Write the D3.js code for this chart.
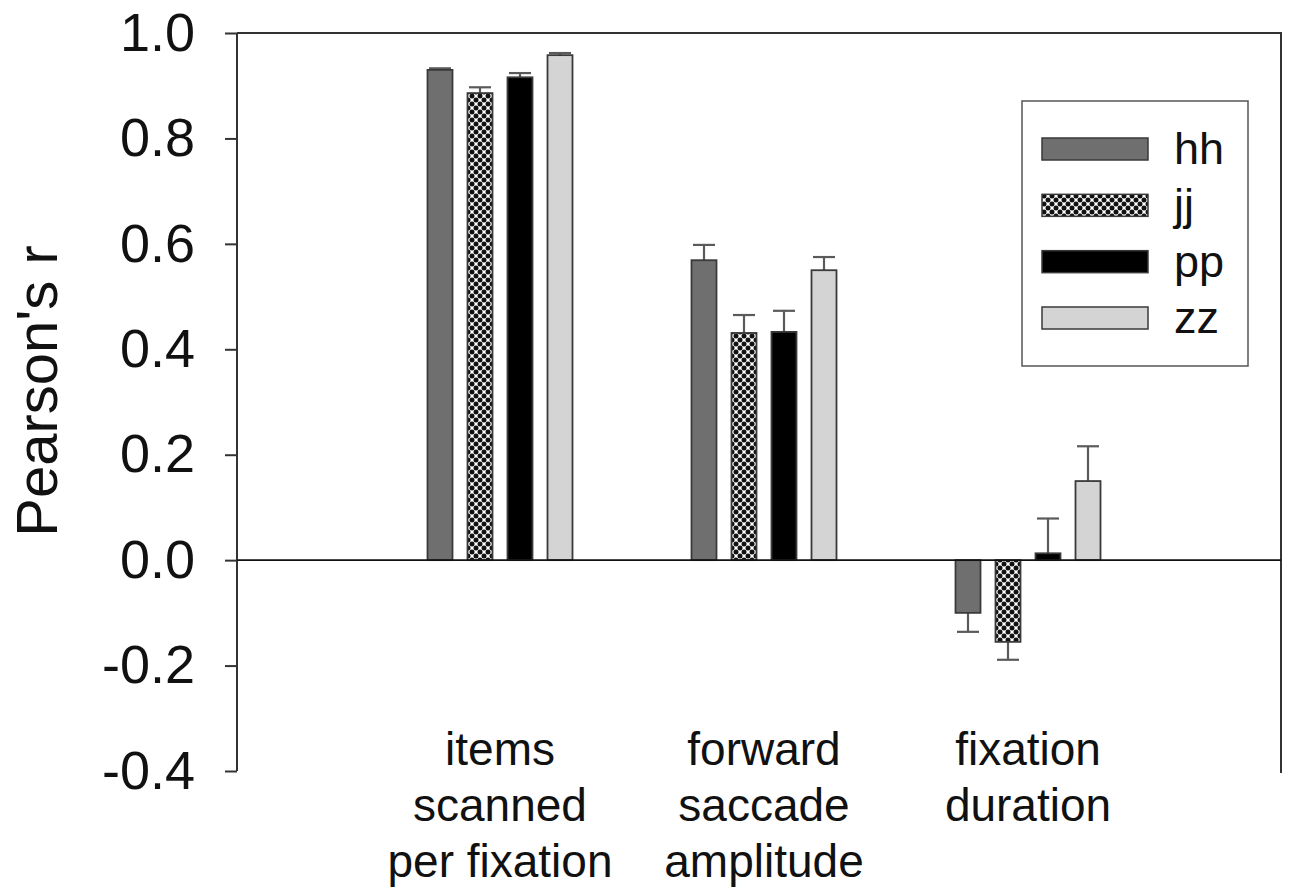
<!DOCTYPE html>
<html lang="en">
<head>
  <meta charset="UTF-8" />
  <title>Pearson's r</title>
  <script src="https://cdn.jsdelivr.net/npm/d3@7"></script>
  <style>
    body { margin: 0; background: #fff; }
    text { font-family: Arial, "Liberation Sans", sans-serif; fill: #111; }
  </style>
</head>
<body>
<script>
  // data
  const groups = [["items", "scanned", "per fixation"], ["forward", "saccade", "amplitude"], ["fixation", "duration"]];
  const series = ["hh", "jj", "pp", "zz"];
  const values = [
    [0.930, 0.886, 0.916, 0.958],
    [0.569, 0.431, 0.433, 0.550],
    [-0.100, -0.155, 0.013, 0.150]
  ];
  const errors = [
    [0.003, 0.011, 0.008, 0.004],
    [0.029, 0.034, 0.040, 0.025],
    [0.036, 0.034, 0.066, 0.066]
  ];
  const yTicks = [1.0, 0.8, 0.6, 0.4, 0.2, 0.0, -0.2, -0.4];

  const width = 1296, height = 890;
  const plotLeft = 237, plotRight = 1281, plotTop = 33, plotBottom = 771;

  const svg = d3.select('body').append('svg')
    .attr('width', width)
    .attr('height', height);

  // checker-dot pattern for jj
  const pat = svg.append('defs').append('pattern')
    .attr('id', 'dots')
    .attr('patternUnits', 'userSpaceOnUse')
    .attr('width', 8).attr('height', 8);
  pat.append('rect').attr('width', 8).attr('height', 8).attr('fill', '#fff');
  [[0, 0], [8, 0], [0, 8], [8, 8], [4, 4]].forEach(p => {
    pat.append('circle').attr('cx', p[0]).attr('cy', p[1]).attr('r', 2.5).attr('fill', '#111');
  });

  const fills = { hh: '#6f6f6f', jj: 'url(#dots)', pp: '#000', zz: '#d4d4d4' };

  const y = d3.scaleLinear().domain([-0.4, 1.0]).range([plotBottom, plotTop]);
  const x = d3.scaleLinear().domain([0, 2]).range([500, 1028]);
  const xs = d3.scaleBand().domain(series).range([-80, 80])
    .paddingInner(0.375).paddingOuter(0.1875);

  // y axis
  const yAxis = svg.append('g')
    .attr('transform', `translate(${plotLeft},0)`)
    .call(d3.axisLeft(y).tickValues(yTicks).tickFormat(d3.format('.1f')).tickSize(12).tickPadding(30));
  yAxis.select('.domain').attr('stroke', '#333').attr('stroke-width', 2).attr('d', `M0,${plotTop}V${plotBottom}`);
  yAxis.selectAll('.tick line').attr('stroke', '#333').attr('stroke-width', 2);
  yAxis.selectAll('.tick text')
    .attr('font-size', 54)
    .attr('font-family', 'Arial, "Liberation Sans", sans-serif')
    .attr('fill', '#111')
    .text(d => d3.format('.1f')(d).replace('−', '-'));

  // top and right frame
  svg.append('path')
    .attr('d', `M${plotLeft},${plotTop}H${plotRight}V${plotBottom + 2}`)
    .attr('fill', 'none').attr('stroke', '#333').attr('stroke-width', 2);

  // bars
  const bars = [];
  values.forEach((row, gi) => row.forEach((v, si) => bars.push({ gi, s: series[si], v, e: errors[gi][si] })));

  // error bars, one-sided, drawn behind the bars
  const eb = svg.append('g').attr('stroke', '#5a5a5a').attr('stroke-width', 2.2);
  bars.forEach(d => {
    const cx = x(d.gi) + xs(d.s) + xs.bandwidth() / 2;
    const tip = d.v >= 0 ? d.v + d.e : d.v - d.e;
    eb.append('line').attr('x1', cx).attr('x2', cx).attr('y1', y(d.v)).attr('y2', y(tip));
    eb.append('line').attr('x1', cx - 11).attr('x2', cx + 11).attr('y1', y(tip)).attr('y2', y(tip));
  });

  svg.append('g').selectAll('rect')
    .data(bars)
    .join('rect')
    .attr('x', d => x(d.gi) + xs(d.s))
    .attr('width', xs.bandwidth())
    .attr('y', d => y(Math.max(0, d.v)))
    .attr('height', d => Math.abs(y(d.v) - y(0)))
    .attr('fill', d => fills[d.s])
    .attr('stroke', '#3a3a3a')
    .attr('stroke-width', 1.8);

  // zero line
  svg.append('line')
    .attr('x1', plotLeft).attr('x2', plotRight)
    .attr('y1', y(0)).attr('y2', y(0))
    .attr('stroke', '#111').attr('stroke-width', 1.8);

  // category labels
  groups.forEach((lines, gi) => {
    const t = svg.append('text')
      .attr('text-anchor', 'middle')
      .attr('font-size', 46);
    lines.forEach((s, i) => {
      t.append('tspan').attr('x', x(gi)).attr('y', 765 + i * 56).text(s);
    });
  });

  // y title
  svg.append('text')
    .attr('transform', 'translate(57,391) rotate(-90)')
    .attr('text-anchor', 'middle')
    .attr('font-size', 58)
    .text("Pearson's r");

  // legend
  const lg = svg.append('g');
  lg.append('rect')
    .attr('x', 1022).attr('y', 101).attr('width', 226).attr('height', 265)
    .attr('fill', '#fff').attr('stroke', '#555').attr('stroke-width', 1.5);
  const ly = d3.scalePoint().domain(series).range([149, 318]);
  series.forEach(s => {
    lg.append('rect')
      .attr('x', 1042).attr('y', ly(s) - 11).attr('width', 106).attr('height', 22)
      .attr('fill', fills[s]).attr('stroke', '#3a3a3a').attr('stroke-width', 1.5);
    lg.append('text')
      .attr('x', 1174).attr('y', ly(s) + 15)
      .attr('font-size', 45)
      .text(s);
  });
</script>
</body>
</html>
